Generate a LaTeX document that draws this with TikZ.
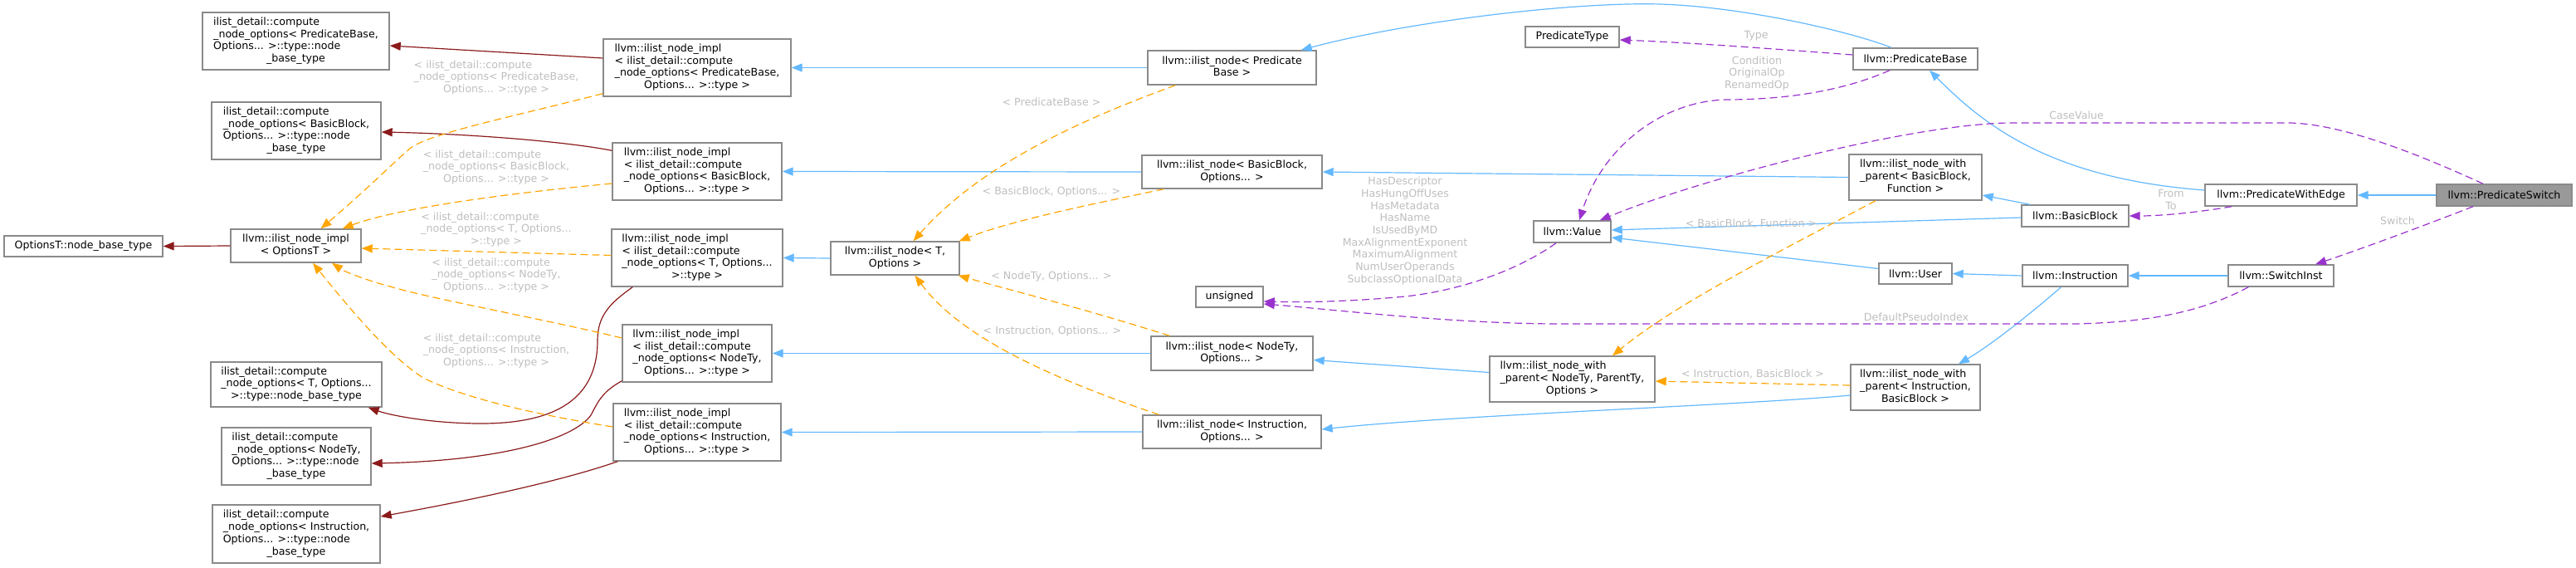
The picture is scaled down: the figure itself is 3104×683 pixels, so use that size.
\documentclass[tikz,border=0pt]{standalone}
\usepackage{fontspec}
\setmainfont{DejaVu Sans}
\usetikzlibrary{arrows.meta,calc}
\definecolor{boxline}{HTML}{8A8A8A}
\definecolor{rootfill}{HTML}{999999}
\definecolor{inhcol}{HTML}{63B8FF}
\definecolor{privcol}{HTML}{8B1A1A}
\definecolor{tmplcol}{HTML}{FFA500}
\definecolor{usecol}{HTML}{9A32CD}
\definecolor{lblcol}{HTML}{BEBEBE}
\newcommand{\dox}[2]{\begin{tabular}{@{}l@{}}#1\multicolumn{1}{@{}c@{}}{#2}\end{tabular}}
\newcommand{\doxc}[1]{\begin{tabular}{@{}c@{}}#1\end{tabular}}
\begin{document}
\begin{tikzpicture}[x=1pt,y=-1pt,
  every node/.style={font=\fontsize{12.6}{14.7}\selectfont},
  box/.style={draw=boxline,line width=1.4pt,fill=white,rectangle,inner sep=0pt},
  sz/.style 2 args={minimum width=#1pt,minimum height=#2pt},
  root/.style={box,fill=rootfill},
  lbl/.style={text=lblcol,inner sep=0pt},
  doxtip/.style={-{Triangle[length=13pt,width=10pt]}},
  inh/.style={draw=inhcol,line width=1.2pt,doxtip},
  priv/.style={draw=privcol,line width=1.2pt,doxtip},
  tmpl/.style={draw=tmplcol,line width=1.2pt,dash pattern=on 9pt off 5pt,doxtip},
  use/.style={draw=usecol,line width=1.2pt,dash pattern=on 9pt off 5pt,doxtip}]
\useasboundingbox (0,0) rectangle (3104,683);

% ---------- nodes ----------
\node[box,sz={225}{69}] (cnoPB) at (356.5,49.5) {\dox{ilist\_detail::compute\\\_node\_options< PredicateBase,\\Options... >::type::node\\}{\_base\_type}};
\node[box,sz={204}{69}] (cnoBB) at (357,157.5) {\dox{ilist\_detail::compute\\\_node\_options< BasicBlock,\\Options... >::type::node\\}{\_base\_type}};
\node[box,sz={191}{25}] (optNBT) at (100.5,296.5) {OptionsT::node\_base\_type};
\node[box,sz={157}{40}] (implOptT) at (356.5,296) {\dox{llvm::ilist\_node\_impl\\}{< OptionsT >}};
\node[box,sz={206}{54}] (cnoT) at (357,463) {\dox{ilist\_detail::compute\\\_node\_options< T, Options...\\}{>::type::node\_base\_type}};
\node[box,sz={180}{69}] (cnoNodeTy) at (357,549.5) {\dox{ilist\_detail::compute\\\_node\_options< NodeTy,\\Options... >::type::node\\}{\_base\_type}};
\node[box,sz={202}{70}] (cnoInstr) at (357,643) {\dox{ilist\_detail::compute\\\_node\_options< Instruction,\\Options... >::type::node\\}{\_base\_type}};

\node[box,sz={226}{69}] (implPB) at (840,81.5) {\dox{llvm::ilist\_node\_impl\\< ilist\_detail::compute\\\_node\_options< PredicateBase,\\}{Options... >::type >}};
\node[box,sz={204}{69}] (implBB) at (840,206.5) {\dox{llvm::ilist\_node\_impl\\< ilist\_detail::compute\\\_node\_options< BasicBlock,\\}{Options... >::type >}};
\node[box,sz={206}{69}] (implT) at (840,310.5) {\dox{llvm::ilist\_node\_impl\\< ilist\_detail::compute\\\_node\_options< T, Options...\\}{>::type >}};
\node[box,sz={180}{69}] (implNodeTy) at (840,425.5) {\dox{llvm::ilist\_node\_impl\\< ilist\_detail::compute\\\_node\_options< NodeTy,\\}{Options... >::type >}};
\node[box,sz={202}{69}] (implInstr) at (840,520.5) {\dox{llvm::ilist\_node\_impl\\< ilist\_detail::compute\\\_node\_options< Instruction,\\}{Options... >::type >}};

\node[box,sz={155}{40}] (inT) at (1078.5,311) {\dox{llvm::ilist\_node< T,\\}{Options >}};
\node[box,sz={203}{41}] (inPB) at (1484.5,81.5) {\dox{llvm::ilist\_node< Predicate\\}{Base >}};
\node[box,sz={217}{40}] (inBB) at (1484.5,207) {\dox{llvm::ilist\_node< BasicBlock,\\}{Options... >}};
\node[box,sz={195}{41}] (inNT) at (1484.5,425.5) {\dox{llvm::ilist\_node< NodeTy,\\}{Options... >}};
\node[box,sz={215}{40}] (inIn) at (1484.5,520) {\dox{llvm::ilist\_node< Instruction,\\}{Options... >}};
\node[box,sz={81}{25}] (unsigned) at (1481.5,357.5) {unsigned};

\node[box,sz={113}{25}] (PredicateType) at (1894.5,44.5) {PredicateType};
\node[box,sz={93}{26}] (Value) at (1894.5,279) {llvm::Value};
\node[box,sz={199}{55}] (nwpNP) at (1894.5,456.5) {\dox{llvm::ilist\_node\_with\\\_parent< NodeTy, ParentTy,\\}{Options >}};

\node[box,sz={150}{26}] (PB) at (2308,71) {llvm::PredicateBase};
\node[box,sz={160}{55}] (nwpBB) at (2308,213.5) {\dox{llvm::ilist\_node\_with\\\_parent< BasicBlock,\\}{Function >}};
\node[box,sz={129}{26}] (BasicBlock) at (2500.5,260) {llvm::BasicBlock};
\node[box,sz={88}{25}] (User) at (2308,329.5) {llvm::User};
\node[box,sz={127}{26}] (Instruction) at (2500.5,332) {llvm::Instruction};
\node[box,sz={156}{55}] (nwpIB) at (2308,466.5) {\dox{llvm::ilist\_node\_with\\\_parent< Instruction,\\}{BasicBlock >}};

\node[box,sz={183}{26}] (PWE) at (2748.5,235) {llvm::PredicateWithEdge};
\node[root,sz={163}{26}] (PS) at (3017.5,235) {llvm::PredicateSwitch};
\node[box,sz={127}{26}] (SwitchInst) at (2748.5,332) {llvm::SwitchInst};

% ---------- public inheritance ----------
\draw[inh] (inPB.west) -- (implPB.east);
\draw[inh] (inBB.west) -- (implBB.east);
\draw[inh] (inT.west) -- (implT.east);
\draw[inh] (inNT.west) -- (implNodeTy.east);
\draw[inh] (inIn.west) -- (implInstr.east);
\draw[inh] ($(PB.north)+(-29,0)$) .. controls (2230,38) and (2100,8) .. (2000,5)
  .. controls (1900,2) and (1700,25) .. ($(inPB.north east)+(-19,0)$);
\draw[inh] (nwpBB.west) -- (inBB.east);
\draw[inh] ($(BasicBlock.west)+(0,2)$) -- ($(Value.east)+(0,-2)$);
\draw[inh] ($(User.west)+(0,-6)$) -- ($(Value.east)+(0,7)$);
\draw[inh] ($(BasicBlock.north west)+(11,0)$) -- ($(nwpBB.east)+(0,21.5)$);
\draw[inh] ($(PWE.west)+(0,-6)$) .. controls (2470,215) and (2390,150) .. ($(PB.south)+(17,0)$);
\draw[inh] (Instruction.west) -- (User.east);
\draw[inh] (SwitchInst.west) -- (Instruction.east);
\draw[inh] (PS.west) -- (PWE.east);
\draw[inh] ($(nwpNP.west)+(0,-8)$) -- ($(inNT.east)+(0,8)$);
\draw[inh] ($(nwpIB.west)+(0,9.5)$) .. controls (2100,488) and (1750,500) .. ($(inIn.east)+(0,-3)$);
\draw[inh] ($(Instruction.south)+(-17,0)$) .. controls (2450,375) and (2400,415) .. ($(nwpIB.north)+(52,0)$);

% ---------- private inheritance ----------
\draw[priv] ($(implPB.west)+(0,-11.5)$) -- ($(cnoPB.east)+(0,5.5)$);
\draw[priv] ($(implBB.north west)+(0,10)$) .. controls (680,170) and (560,161) .. ($(cnoBB.east)+(0,1.5)$);
\draw[priv] (implOptT.west) -- (optNBT.east);
\draw[priv] ($(implT.south west)+(26,0)$) .. controls (735,365) and (720,380) .. (720,410)
  .. controls (720,480) and (670,510) .. (580,510)
  .. controls (520,510) and (470,500) .. ($(cnoT.south east)+(-17,0)$);
\draw[priv] ($(implNodeTy.south west)+(0,-2)$) .. controls (725,472) and (720,485) .. (712,500)
  .. controls (690,530) and (600,555) .. ($(cnoNodeTy.east)+(0,8.5)$);
\draw[priv] ($(implInstr.south west)+(6,0)$) .. controls (680,578) and (580,600) .. ($(cnoInstr.east)+(0,-21)$);

% ---------- template instantiation ----------
\draw[tmpl] ($(implPB.south west)+(0,-4)$) .. controls (620,140) and (520,160) .. (495,178)
  .. controls (475,195) and (440,230) .. ($(implOptT.north)+(30,0)$);
\draw[tmpl] ($(implBB.west)+(0,14.5)$) .. controls (620,232) and (480,250) .. ($(implOptT.north east)+(-23,0)$);
\draw[tmpl] ($(implT.west)+(0,-3)$) -- ($(implOptT.east)+(0,3)$);
\draw[tmpl] ($(implNodeTy.west)+(0,-18.5)$) .. controls (650,383) and (520,360) .. (470,345)
  .. controls (440,337) and (415,327) .. ($(implOptT.south)+(43.5,0)$);
\draw[tmpl] ($(implInstr.west)+(0,-6.5)$) .. controls (650,500) and (560,480) .. (510,455)
  .. controls (470,430) and (420,370) .. ($(implOptT.south)+(20.5,0)$);
\draw[tmpl] ($(inPB.south west)+(34,0)$) .. controls (1300,145) and (1180,200) .. ($(inT.north)+(22,0)$);
\draw[tmpl] ($(inBB.south west)+(27,0)$) .. controls (1320,245) and (1220,265) .. ($(inT.north east)+(-1,0)$);
\draw[tmpl] ($(inNT.north west)+(23,0)$) .. controls (1300,370) and (1220,350) .. ($(inT.south east)+(-2,0)$);
\draw[tmpl] ($(inIn.north west)+(20,0)$) .. controls (1280,460) and (1160,410) .. ($(inT.south)+(24,0)$);
\draw[tmpl] ($(nwpBB.south)+(-48,0)$) .. controls (2150,300) and (2020,365) .. ($(nwpNP.north)+(48.5,0)$);
\draw[tmpl] ($(nwpIB.west)+(0,-2.5)$) -- ($(nwpNP.east)+(0,2.5)$);

% ---------- usage ----------
\draw[use] ($(PB.west)+(0,-5)$) .. controls (2150,60) and (2050,52) .. ($(PredicateType.east)+(0,3.5)$);
\draw[use] ($(PB.south)+(-31,0)$) .. controls (2220,110) and (2150,120) .. (2080,120)
  .. controls (2000,122) and (1930,180) .. ($(Value.north)+(8.5,0)$);
\draw[use] ($(PS.north)+(-25.5,0)$) .. controls (2930,193) and (2830,150) .. (2760,148) -- (2420,148)
  .. controls (2300,150) and (2050,215) .. ($(Value.north east)+(-14,0)$);
\draw[use] ($(PWE.south west)+(33,0)$) .. controls (2640,257) and (2600,260) .. (BasicBlock.east);
\draw[use] ($(PS.south)+(-37.5,0)$) .. controls (2920,272) and (2850,298) .. ($(SwitchInst.north)+(41.5,0)$);
\draw[use] ($(Value.south)+(-19.5,0)$) .. controls (1830,325) and (1760,350) .. (1693,357)
  .. controls (1620,364) and (1560,364) .. ($(unsigned.east)+(0,5.5)$);
\draw[use] ($(SwitchInst.south west)+(25,0)$) .. controls (2660,372) and (2600,388) .. (2500,390) -- (1880,390)
  .. controls (1750,390) and (1600,372) .. ($(unsigned.east)+(0,8.5)$);

% ---------- edge labels ----------
\node[lbl] (l24) at (598,94) {\dox{< ilist\_detail::compute\\\_node\_options< PredicateBase,\\}{Options... >::type >}};
\node[lbl] (l25) at (598,202) {\dox{< ilist\_detail::compute\\\_node\_options< BasicBlock,\\}{Options... >::type >}};
\node[lbl] (l26) at (598,277) {\dox{< ilist\_detail::compute\\\_node\_options< T, Options...\\}{>::type >}};
\node[lbl] (l27) at (598,332) {\dox{< ilist\_detail::compute\\\_node\_options< NodeTy,\\}{Options... >::type >}};
\node[lbl] (l28) at (598,423) {\dox{< ilist\_detail::compute\\\_node\_options< Instruction,\\}{Options... >::type >}};
\node[lbl] (l29) at (1267,123) {< PredicateBase >};
\node[lbl] (l30) at (1267,231) {< BasicBlock, Options... >};
\node[lbl] (l31) at (1267,333) {< NodeTy, Options... >};
\node[lbl] (l32) at (1268,399) {< Instruction, Options... >};
\node[lbl] (l33) at (2110,269) {< BasicBlock, Function >};
\node[lbl] (l34) at (2112,450) {< Instruction, BasicBlock >};
\node[lbl] (l35) at (2116,43) {Type};
\node[lbl] (l36) at (2117,89) {\doxc{Condition\\OriginalOp\\RenamedOp}};
\node[lbl] (l37) at (2502,139) {CaseValue};
\node[lbl] (l38) at (2616,242) {\doxc{From\\To}};
\node[lbl] (l39) at (2889,266) {Switch};
\node[lbl] (l40) at (1693,278.5) {\doxc{HasDescriptor\\HasHungOffUses\\HasMetadata\\HasName\\IsUsedByMD\\MaxAlignmentExponent\\MaximumAlignment\\NumUserOperands\\SubclassOptionalData}};
\node[lbl] (l41) at (2309,382) {DefaultPseudoIndex};
\end{tikzpicture}
\end{document}
